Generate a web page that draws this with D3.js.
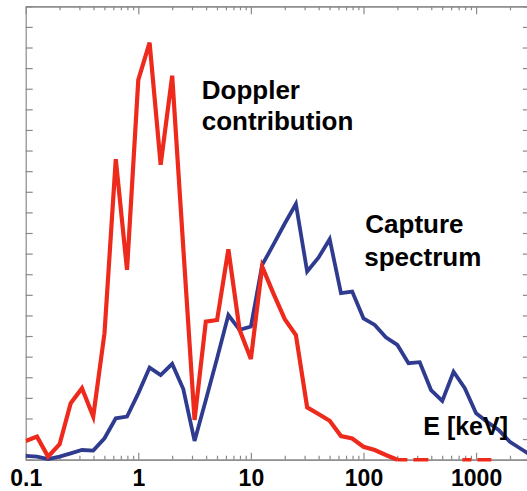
<!DOCTYPE html>
<html>
<head>
<meta charset="utf-8">
<script src="https://cdn.jsdelivr.net/npm/d3@7"></script>
<style>
  html, body { margin: 0; padding: 0; background: #fff; }
  svg { display: block; }
</style>
</head>
<body>
<script>
// Energy bins (keV), ten per decade
const energies = [0.1, 0.126, 0.158, 0.2, 0.251, 0.316, 0.398, 0.501, 0.631, 0.794,
  1, 1.26, 1.58, 2, 2.51, 3.16, 3.98, 5.01, 6.31, 7.94,
  10, 12.6, 15.8, 20, 25.1, 31.6, 39.8, 50.1, 63.1, 79.4,
  100, 126, 158, 200, 251, 316, 398, 501, 631, 794,
  1000, 1259, 1585, 1995, 2512, 3162];

// Doppler contribution (arbitrary units), bins 0..42
const doppler = [0.91, 1.12, 0.15, 0.75, 2.74, 3.47, 2.09, 6.14, 14.58, 9.21,
  18.43, 20.24, 14.31, 18.63, 10.28, 1.93, 6.70, 6.78, 10.21, 6.30,
  4.89, 9.37, 8.08, 6.82, 6.05, 2.54, 2.22, 1.89, 1.15, 1.03,
  0.63, 0.47, 0.23, 0, 0, 0, 0, 0, 0, 0,
  0, 0, 0];

// Capture spectrum (arbitrary units), bins 0..45
const capture = [0.19, 0.15, 0.03, 0.15, 0.31, 0.47, 0.44, 1.04, 2.01, 2.09,
  3.22, 4.47, 4.11, 4.65, 3.43, 0.91, 2.90, 4.92, 7.02, 6.30,
  6.46, 9.45, 10.42, 11.46, 12.41, 9.13, 9.80, 10.70, 8.08, 8.16,
  6.86, 6.54, 5.94, 5.57, 4.68, 4.73, 3.38, 2.85, 4.27, 3.47,
  2.25, 1.83, 1.44, 0.87, 0.52, 0.18];

const xTickValues = [0.1, 1, 10, 100, 1000];
const xTickLabels = ["0.1", "1", "10", "100", "1000"];
const yDomain = [0, 22];
const xDomain = [0.1, 3000];

const W = 527, H = 491;
const margin = { left: 25.7, top: 6.3, right: W - 529.8, bottom: H - 459.7 };

const svg = d3.select("body").append("svg")
  .attr("width", W).attr("height", H);

const x = d3.scaleLog().domain(xDomain).range([margin.left, W - margin.right]);
const y = d3.scaleLinear().domain(yDomain).range([H - margin.bottom, margin.top]);

const axisColor = "#8a8a8a";

svg.append("defs").append("clipPath").attr("id", "plot-clip")
  .append("rect")
  .attr("x", x.range()[0]).attr("y", y.range()[1] - 4)
  .attr("width", x.range()[1] - x.range()[0])
  .attr("height", y.range()[0] - y.range()[1] + 8);

// Minor log ticks (2..9 in each decade) and decade ticks
const allTicks = x.ticks().filter(v => v >= xDomain[0] && v <= xDomain[1]);
const isMajor = v => Math.abs(Math.log10(v) - Math.round(Math.log10(v))) < 1e-9;
const majorTicks = allTicks.filter(isMajor);
const minorTicks = allTicks.filter(v => !isMajor(v));

function styleAxis(g) {
  g.select(".domain").attr("stroke", axisColor).attr("stroke-width", 1.2);
  g.selectAll(".tick line").attr("stroke", axisColor).attr("stroke-width", 1.2);
}

// Bottom axis: ticks pointing inward, bold decade labels
const bottomMinor = svg.append("g")
  .attr("transform", `translate(0,${y.range()[0]})`)
  .call(d3.axisBottom(x).tickValues(minorTicks).tickSizeInner(-4).tickSizeOuter(0).tickFormat(""));
styleAxis(bottomMinor);
const bottomMajor = svg.append("g")
  .attr("transform", `translate(0,${y.range()[0]})`)
  .call(d3.axisBottom(x).tickValues(majorTicks).tickSizeInner(-7).tickSizeOuter(0)
    .tickFormat((d, i) => xTickLabels[xTickValues.indexOf(d)] || ""));
styleAxis(bottomMajor);
bottomMajor.selectAll(".tick text")
  .attr("y", 26)
  .attr("dy", 0)
  .attr("font-family", "'Liberation Sans', Arial, sans-serif")
  .attr("font-weight", "bold")
  .attr("font-size", 23)
  .attr("fill", "#000");

// Top axis
const topMinor = svg.append("g")
  .attr("transform", `translate(0,${y.range()[1]})`)
  .call(d3.axisTop(x).tickValues(minorTicks).tickSizeInner(-4).tickSizeOuter(0).tickFormat(""));
styleAxis(topMinor);
const topMajor = svg.append("g")
  .attr("transform", `translate(0,${y.range()[1]})`)
  .call(d3.axisTop(x).tickValues(majorTicks).tickSizeInner(-8).tickSizeOuter(0).tickFormat(""));
styleAxis(topMajor);

// Left and right axes, unlabelled
const yTicks = d3.range(yDomain[0], yDomain[1] + 1, 1);
const left = svg.append("g")
  .attr("transform", `translate(${x.range()[0]},0)`)
  .call(d3.axisLeft(y).tickValues(yTicks).tickSizeInner(-7).tickSizeOuter(0).tickFormat(""));
styleAxis(left);
const right = svg.append("g")
  .attr("transform", `translate(${x.range()[1]},0)`)
  .call(d3.axisRight(y).tickValues(yTicks).tickSizeInner(-7).tickSizeOuter(0).tickFormat(""));
styleAxis(right);

// Spectra
const plot = svg.append("g").attr("clip-path", "url(#plot-clip)");
const line = d3.line()
  .x(d => x(d.e))
  .y(d => y(d.v));

const capturePts = capture.map((v, i) => ({ e: energies[i], v }));
const dopplerPts = doppler.map((v, i) => ({ e: energies[i], v }));
const zeroStart = 33;

plot.append("path")
  .datum(capturePts)
  .attr("d", line)
  .attr("fill", "none")
  .attr("stroke", "#2e3b8f")
  .attr("stroke-width", 3.8)
  .attr("stroke-linejoin", "miter");

plot.append("path")
  .datum(dopplerPts.slice(0, zeroStart + 1))
  .attr("d", line)
  .attr("fill", "none")
  .attr("stroke", "#ee2a1c")
  .attr("stroke-width", 4.2)
  .attr("stroke-linejoin", "miter");

// Empty high-energy bins of the Doppler curve, drawn broken along zero
plot.append("path")
  .datum(dopplerPts.slice(zeroStart))
  .attr("d", line)
  .attr("fill", "none")
  .attr("stroke", "#ee2a1c")
  .attr("stroke-width", 3.5)
  .attr("stroke-dasharray", "10 6 15 34 9 6 14 200");

// Annotations, anchored in data coordinates (keV, arbitrary units)
const font = "'Liberation Sans', Arial, sans-serif";
function label(txt, ex, vy, size) {
  svg.append("text")
    .attr("x", x(ex)).attr("y", y(vy))
    .attr("font-family", font)
    .attr("font-weight", "bold")
    .attr("font-size", size)
    .attr("fill", "#000")
    .text(txt);
}
label("Doppler", 3.66, 17.51, 26);
label("contribution", 3.66, 16.0, 26);
label("Capture", 103.8, 11.0, 26);
label("spectrum", 101.6, 9.4, 26);
label("E [keV]", 339.6, 1.19, 25);
</script>
</body>
</html>
